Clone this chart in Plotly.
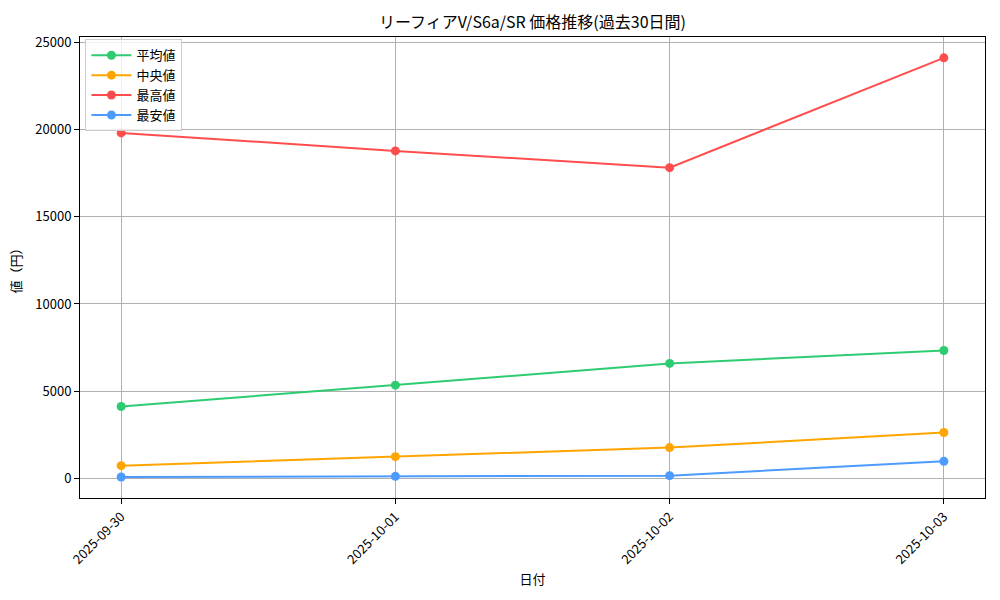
import plotly.graph_objects as go

dates = ["2025-09-30", "2025-10-01", "2025-10-02", "2025-10-03"]
avg_vals = [4120, 5345, 6590, 7335]
median_vals = [728, 1245, 1765, 2630]
max_vals = [19810, 18780, 17816, 24115]
min_vals = [75, 115, 155, 975]
y_ticks = [0, 5000, 10000, 15000, 20000, 25000]

series = [
    ("平均値", avg_vals, "#2ecc71"),
    ("中央値", median_vals, "#ffa500"),
    ("最高値", max_vals, "#ff4d4d"),
    ("最安値", min_vals, "#4d9bff"),
]

FONT = "Noto Sans CJK JP"

fig = go.Figure()
for name, vals, color in series:
    fig.add_trace(go.Scatter(
        x=dates, y=vals, name=name, mode="lines+markers",
        line=dict(color=color, width=2),
        marker=dict(color=color, size=9),
    ))

fig.update_layout(
    width=1000, height=600,
    paper_bgcolor="white", plot_bgcolor="white",
    margin=dict(l=80, r=15, t=37, b=102, autoexpand=False),
    font=dict(family=FONT, size=13, color="black"),
    title=dict(text="リーフィアV/S6a/SR 価格推移(過去30日間)", x=0.5, xanchor="center",
               xref="paper", y=0.962, yref="container", yanchor="middle",
               font=dict(size=16, family=FONT), automargin=False),
    legend=dict(x=0.006, y=0.995, xanchor="left", yanchor="top",
                bgcolor="rgba(255,255,255,0.8)", bordercolor="#cccccc", borderwidth=1,
                font=dict(size=13, family=FONT), tracegroupgap=2, itemwidth=40),
    showlegend=True,
)

fig.update_xaxes(
    type="date", automargin=False,
    range=["2025-09-29 20:24", "2025-10-03 03:36"],
    tickvals=dates, ticktext=dates, tickangle=-45,
    showgrid=True, gridcolor="#b0b0b0", gridwidth=1,
    showline=True, linecolor="black", linewidth=1, mirror=True,
    ticks="outside", ticklen=5, tickcolor="black",
    tickfont=dict(size=13, family=FONT),
    title=dict(text="日付", font=dict(size=13, family=FONT), standoff=8),
    zeroline=False,
)
fig.update_yaxes(
    automargin=False,
    range=[-1127, 25311],
    tickvals=y_ticks, ticktext=[str(v) for v in y_ticks],
    showgrid=True, gridcolor="#b0b0b0", gridwidth=1,
    showline=True, linecolor="black", linewidth=1, mirror=True,
    ticks="outside", ticklen=5, tickcolor="black",
    tickfont=dict(size=13, family=FONT),
    title=dict(text="値（円）", font=dict(size=13, family=FONT), standoff=10),
    zeroline=False,
)

fig.write_html("out.html", config={"displayModeBar": False},
               post_script="document.body.style.margin='0';")
